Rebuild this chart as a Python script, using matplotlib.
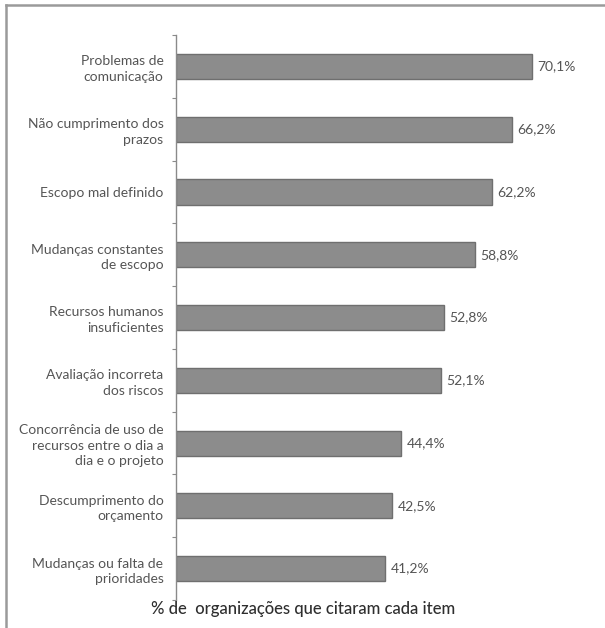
import matplotlib
matplotlib.use("Agg")
from matplotlib import pyplot as plt
from matplotlib.lines import Line2D

# data, top to bottom
categories = [
    "Problemas de\ncomunicação",
    "Não cumprimento dos\nprazos",
    "Escopo mal definido",
    "Mudanças constantes\nde escopo",
    "Recursos humanos\ninsuficientes",
    "Avaliação incorreta\ndos riscos",
    "Concorrência de uso de\nrecursos entre o dia a\ndia e o projeto",
    "Descumprimento do\norçamento",
    "Mudanças ou falta de\nprioridades",
]
values = [70.1, 66.2, 62.2, 58.8, 52.8, 52.1, 44.4, 42.5, 41.2]
value_labels = ["70,1%", "66,2%", "62,2%", "58,8%", "52,8%", "52,1%", "44,4%", "42,5%", "41,2%"]

plt.rcParams['font.family'] = ['Lato', 'DejaVu Sans']

fig = plt.figure(figsize=(6.05, 6.28), dpi=100)
ax = fig.add_axes([176 / 605, 28 / 628, 424 / 605, 565 / 628])

pos = list(range(len(categories)))
ax.barh(pos, values, height=0.40, color='#8c8c8c', edgecolor='#6f6f6f', linewidth=1.0)

for p, v, lab in zip(pos, values, value_labels):
    ax.text(v + 1.1, p, lab, va='center', ha='left', fontsize=10, color='#555555')

ax.set_xlim(0, 83.5)
ax.set_ylim(8.5, -0.5)

for s in ['top', 'right', 'bottom']:
    ax.spines[s].set_visible(False)
ax.spines['left'].set_color('#8a8a8a')
ax.spines['left'].set_linewidth(1.0)
ax.set_xticks([])

# category labels at bar centres, small ticks on the boundaries
ax.set_yticks(pos)
ax.set_yticklabels(categories, fontsize=10, color='#555555', linespacing=1.35)
ax.tick_params(axis='y', which='major', length=0, pad=9)
ax.set_yticks([p - 0.5 for p in pos] + [8.5], minor=True)
ax.tick_params(axis='y', which='minor', length=3, width=0.8, color='#8a8a8a')

fig.text(303 / 605, 1 - 609 / 628, "% de  organizações que citaram cada item",
         ha='center', va='center', fontsize=12, color='#2e2e2e', fontweight='medium')

# outer frame (top and left edges)
fig.add_artist(Line2D([6 / 605, 6 / 605], [0, 1 - 5 / 628], transform=fig.transFigure,
                      color='#9a9a9a', linewidth=1.8))
fig.add_artist(Line2D([6 / 605, 1], [1 - 5 / 628, 1 - 5 / 628], transform=fig.transFigure,
                      color='#9a9a9a', linewidth=1.8))

fig.savefig("out.png", dpi=100)
